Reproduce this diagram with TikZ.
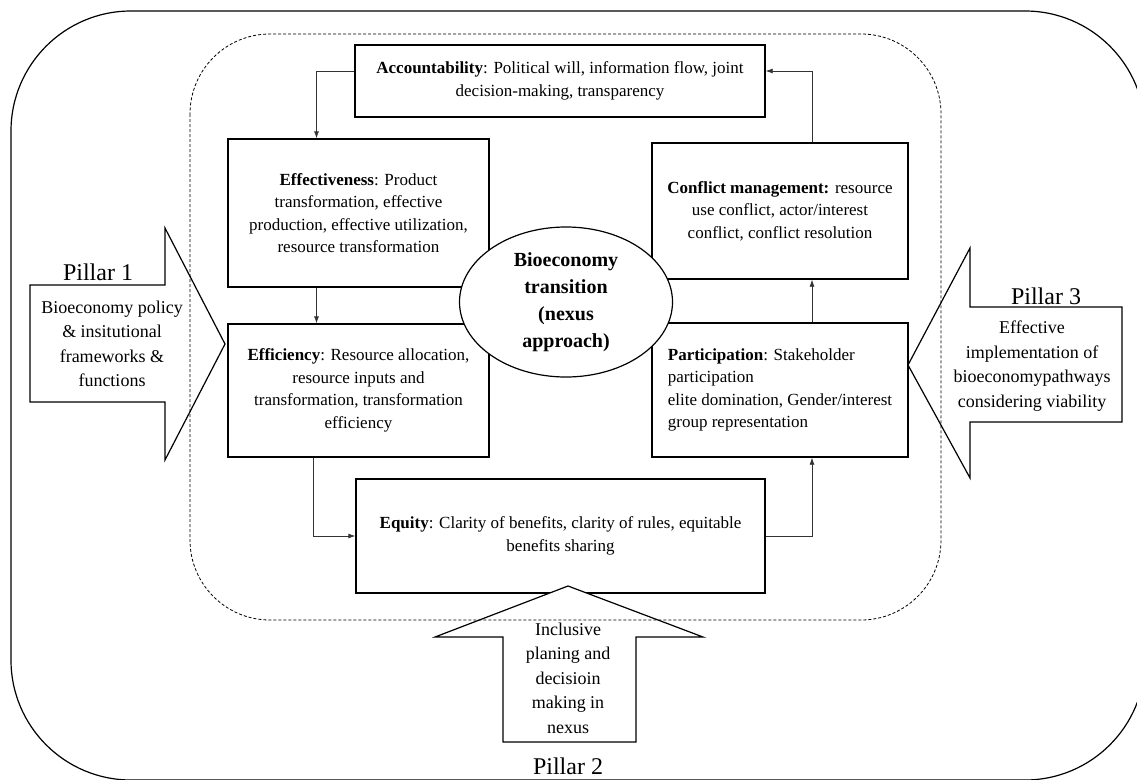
\documentclass[tikz,border=0pt]{standalone}
\usepackage{fontspec}
\setmainfont{Liberation Serif}
\usetikzlibrary{arrows.meta,shapes.geometric}

\begin{document}
\begin{tikzpicture}[x=1pt,y=-1pt,>={Latex[length=7pt,width=5pt]}]

      \useasboundingbox (0,0) rectangle (1137,779);
      \draw[line width=1.2pt, rounded corners=120pt] (11,11) rectangle (1145,780);

      \begin{scope}[every node/.style={rectangle,draw,line width=1.3pt,fill=white,align=center,
          font=\fontsize{17}{22.5}\selectfont}]
        \node[minimum width=410,minimum height=72]  (acc)  at (560,81)    {\textbf{Accountability}: Political will, information flow, joint\\decision-making, transparency};
        \node[minimum width=261,minimum height=148] (eff)  at (358.5,213) {\textbf{Effectiveness}: Product\\transformation, effective\\production, effective utilization,\\resource transformation};
        \node[minimum width=261,minimum height=133] (effi) at (358.5,390.5) {\textbf{Efficiency}: Resource allocation,\\resource inputs and\\transformation, transformation\\efficiency};
        \node[minimum width=409,minimum height=114] (eq)   at (560.5,536) {\textbf{Equity}: Clarity of benefits, clarity of rules, equitable\\benefits sharing};
        \node[minimum width=256,minimum height=134,align=left] (part) at (780,390) {\textbf{Participation}: Stakeholder\\participation\\elite domination, Gender/interest\\group representation};
        \node[minimum width=256,minimum height=136] (conf) at (780,211)   {\textbf{Conflict management:} resource\\use conflict, actor/interest\\conflict, conflict resolution};
      \end{scope}

      \node[ellipse,draw,line width=1.2pt,fill=white,align=center,inner sep=0pt,
        minimum width=213,minimum height=150,font=\fontsize{20}{27}\selectfont\bfseries]
        (bio) at (566,302) {Bioeconomy\\transition\\(nexus\\approach)};

      \begin{scope}[line width=0.8pt, black!80]
        \draw[->] ([yshift=10]acc.west) -| ([xshift=-42]eff.north);
        \draw[->] ([xshift=-42]eff.south) -- ([xshift=-42]effi.north);
        \draw[->] ([xshift=-45]effi.south) |- (eq.west);
        \draw[->] (eq.east) -| ([xshift=32]part.south);
        \draw[->] ([xshift=32]part.north) -- ([xshift=32]conf.south);
        \draw[->] ([xshift=32]conf.north) |- ([yshift=10]acc.east);
      \end{scope}

      % pillars
      \begin{scope}[line width=1.2pt, fill=white]
        \filldraw (30,285) -- (165,285) -- (165,228) -- (225,344) -- (165,460) -- (165,402) -- (30,402) -- cycle;
        \filldraw (503,742) -- (503,637) -- (435,637) -- (568,586) -- (703,637) -- (636,637) -- (636,742) -- cycle;
        \filldraw (1122,307) -- (970,307) -- (970,248) -- (908,365) -- (970,478) -- (970,422) -- (1122,422) -- cycle;
      \end{scope}

      \draw[line width=0.8pt, dash pattern=on 3pt off 2pt, rounded corners=80pt] (190,34) rectangle (941,620);

      \begin{scope}[every node/.style={align=center, font=\fontsize{18}{24.5}\selectfont}]
        \node (p1)    at (98,272)   {\fontsize{24}{28}\selectfont Pillar 1};
        \node (p1txt) at (112,344)  {Bioeconomy policy\\\& insitutional\\frameworks \&\\functions};
        \node (p2)    at (568,766)  {\fontsize{24}{28}\selectfont Pillar 2};
        \node (p2txt) at (568,678)  {Inclusive\\planing and\\decisioin\\making in\\nexus};
        \node (p3)    at (1046,296) {\fontsize{24}{28}\selectfont Pillar 3};
        \node (p3txt) at (1032,366) {Effective\\implementation of\\bioeconomypathways\\considering viability};
      \end{scope}

    \end{tikzpicture}
\end{document}
